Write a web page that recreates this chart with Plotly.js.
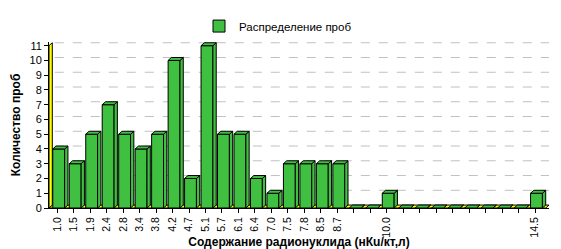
<!DOCTYPE html>
<html><head><meta charset="utf-8">
<script src="https://cdn.plot.ly/plotly-3.0.1.min.js"></script>
<style>html,body{margin:0;padding:0;background:#fff}</style>
</head><body><div id="chart" style="width:561px;height:249px"></div>
<script>
const labels = ['1.0','1.5','1.9','2.4','2.8','3.4','3.8','4.2','4.7','5.1','5.7','6.1','6.4','7.0','7.5','7.8','8.5','8.7','','','10.0','','','','','','','','','14.5'];
const counts = [4,3,5,7,5,4,5,10,2,11,5,5,2,1,3,3,3,3,0,0,1,0,0,0,0,0,0,0,0,1];
const yTicks = [0,1,2,3,4,5,6,7,8,9,10,11];
const seriesName = 'Распределение проб';

const idx = labels.map((_, i) => i);
const GREEN = '#40c040';
const off = -0.27, bw = 0.72, dx = 0.2, dy = 0.2;
const xMin = -0.5, xMax = 29.85;
const shapes = [];
// floor and wall
shapes.push({type:'path', xref:'x', yref:'y', layer:'below',
  path:`M ${xMin},0 L ${xMax-dx},0 L ${xMax},${dy} L ${xMin+dx},${dy} Z`,
  fillcolor:'#ffff00', line:{color:'#000', width:1}});
shapes.push({type:'path', xref:'x', yref:'y', layer:'below',
  path:`M ${xMin},0 L ${xMin},11 L ${xMin+dx},${11+dy} L ${xMin+dx},${dy} Z`,
  fillcolor:'#ffff00', line:{color:'#000', width:1}});
// grid
yTicks.slice(1).forEach(k => shapes.push({type:'line', xref:'x', yref:'y', layer:'below',
  x0:xMin+dx+0.15, x1:xMax, y0:k+dy, y1:k+dy, line:{color:'#c0c0c0', width:1, dash:'dash'}}));
// 3D faces
idx.forEach(i => {
  const v = counts[i], l = i+off, r = i+off+bw;
  shapes.push({type:'path', xref:'x', yref:'y', layer:'above',
    path:`M ${r},0 L ${r+dx},${dy} L ${r+dx},${v+dy} L ${r},${v} Z`,
    fillcolor:GREEN, line:{color:'#000', width:1}});
  shapes.push({type:'path', xref:'x', yref:'y', layer:'above',
    path:`M ${l},${v} L ${l+dx},${v+dy} L ${r+dx},${v+dy} L ${r},${v} Z`,
    fillcolor:GREEN, line:{color:'#000', width:1}});
});

const trace = {type:'bar', x: idx, y: counts, name: seriesName, width: bw, offset: off,
  marker:{color:GREEN, line:{color:'#000', width:1}}, showlegend:true, hoverinfo:'none'};

const layout = {
  width:561, height:249,
  margin:{l:49, r:12, t:42, b:41},
  paper_bgcolor:'#fff', plot_bgcolor:'rgba(0,0,0,0)',
  font:{family:'Liberation Sans, Arial, sans-serif', size:11, color:'#000'},
  showlegend:true,
  legend:{orientation:'h', x:0.458, xanchor:'center', y:1.096, yanchor:'middle',
    font:{size:11.5}, bgcolor:'rgba(0,0,0,0)'},
  bargap:0,
  xaxis:{range:[xMin, xMax], tickmode:'array', tickvals: idx, ticktext: labels,
    tickangle:-90, ticks:'outside', ticklen:4, tickcolor:'#000',
    showline:true, linecolor:'#000', linewidth:1, showgrid:false, zeroline:false,
    tickfont:{size:10.5},
    title:{text:'Содержание радионуклида (нКu/кт,л)', font:{size:12, weight:'bold'}, standoff:4}},
  yaxis:{range:[0, 11.25], tickmode:'array', tickvals: yTicks,
    ticks:'outside', ticklen:4, tickcolor:'#000',
    showline:true, linecolor:'#000', linewidth:1, showgrid:false, zeroline:false,
    tickfont:{size:11},
    title:{text:'Количество проб', font:{size:12, weight:'bold'}, standoff:6}},
  shapes: shapes
};
Plotly.newPlot('chart', [trace], layout, {displayModeBar:false, staticPlot:true});
</script></body></html>
